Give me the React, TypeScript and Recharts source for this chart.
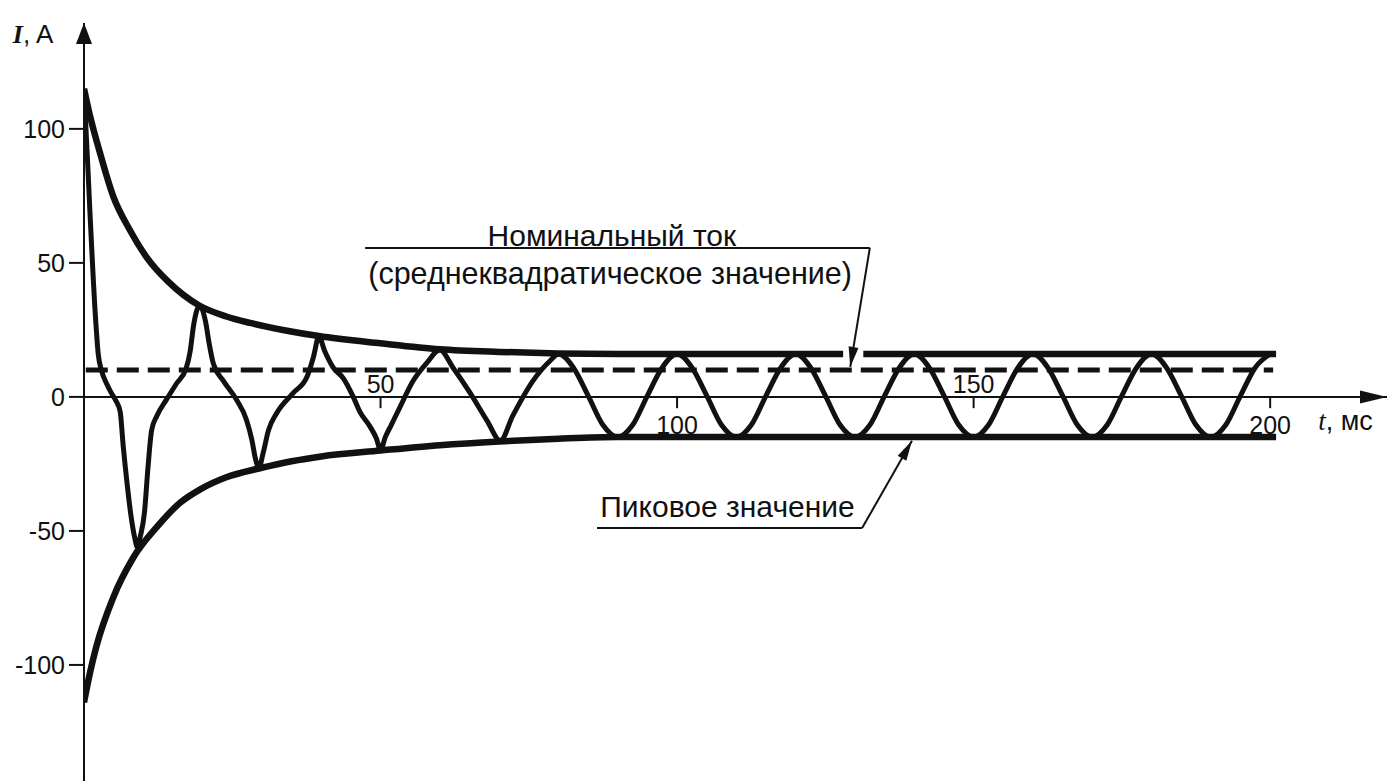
import React from 'react'
import { LineChart, Line, XAxis, YAxis, ReferenceLine, ReferenceDot } from 'recharts'

const FONT = '"Liberation Sans", Arial, Helvetica, sans-serif'
const SERIF = '"Liberation Serif", "Times New Roman", serif'
const INK = '#111'

// current i(t), ms / A
const currentPts: [number, number][] = [
  [0, 113], [0.2, 106], [1.0, 69], [1.9, 31], [2.4, 16], [3.0, 9.5], [3.8, 5], [4.6, 1.5],
  [5.4, -1.5], [6.1, -5.5], [6.6, -18], [7.3, -33], [7.9, -44], [8.5, -52], [9.0, -56],
  [9.5, -52], [10.2, -43], [10.8, -26], [11.4, -12.5], [12.3, -7], [13.9, -1], [15.6, 5],
  [17.2, 10.5], [17.9, 17], [18.5, 27], [19.5, 34], [20.5, 28], [21.1, 20], [21.8, 12.5],
  [23.5, 6], [25.7, -1], [27.4, -8.6], [28.3, -16], [28.9, -23], [29.5, -26.5], [30.2, -21],
  [31.1, -12.5], [32.5, -6], [35.3, 1.5], [37.6, 7.5], [38.7, 15], [39.6, 22.5], [40.6, 17],
  [42, 11], [43.7, 7], [45.4, 0], [46.5, -5.5], [48.2, -11], [49.3, -15.5], [50, -19.8],
  [50.8, -15], [51.8, -10.5], [53.3, -3.7], [55.5, 6], [57.8, 12.7], [60, 17.5], [62.2, 11],
  [65.1, 1.5], [68, -9], [70.2, -16.3], [72.3, -7], [75.7, 6], [78.6, 13.5], [80, 16],
  [82.5, 11], [85, 0.5], [87.5, -10.5], [90, -15], [92.5, -10.5], [95, 0.5], [97.5, 11],
  [100, 16], [102.5, 11], [105, 0.5], [107.5, -10.5], [110, -15], [112.5, -10.5], [115, 0.5],
  [117.5, 11], [120, 16], [122.5, 11], [125, 0.5], [127.5, -10.5], [130, -15], [132.5, -10.5],
  [135, 0.5], [137.5, 11], [140, 16], [142.5, 11], [145, 0.5], [147.5, -10.5], [150, -15],
  [152.5, -10.5], [155, 0.5], [157.5, 11], [160, 16], [162.5, 11], [165, 0.5], [167.5, -10.5],
  [170, -15], [172.5, -10.5], [175, 0.5], [177.5, 11], [180, 16], [182.5, 11], [185, 0.5],
  [187.5, -10.5], [190, -15], [192.5, -10.5], [195, 0.5], [197.5, 11], [200, 16],
]

// peak envelope, upper branch (gap where the leader arrow crosses it)
const upperPts: [number, number | null][] = [
  [0, 115], [1, 105], [2.7, 91], [4.9, 75], [7.8, 62], [10.6, 52], [14.2, 43], [19.5, 34],
  [24, 30], [28, 27.6], [34, 24.8], [39.6, 22.7], [50, 20], [60, 17.8], [70, 16.8],
  [80, 16.2], [90, 16], [128, 16], [129.7, null], [131.4, 16], [201, 16],
]

// peak envelope, lower branch
const lowerPts: [number, number][] = [
  [0, -114], [1, -103], [2.1, -93], [4.9, -75], [8.3, -60], [12.3, -48.5], [16.2, -39.5],
  [19.6, -34.5], [24, -30], [29.5, -26.7], [35, -24], [40, -22.2], [50, -20], [60, -18],
  [70, -16.6], [80, -15.6], [90, -15], [201, -15],
]

// rated rms current
const rmsPts: [number, number][] = [[0.3, 10], [200.5, 10]]

const yTicks = [-100, -50, 0, 50, 100]
const xTicks = [50, 100, 150, 200]

const toRows = (pts: [number, number | null][]) => pts.map(([t, v]) => ({ t, v }))

const arrowHead = (len: number, half: number, angle: number) => (p: any) => (
  <polygon
    points={`0,0 ${-len},${-half} ${-len},${half}`}
    transform={`translate(${p.cx},${p.cy}) rotate(${angle})`}
    fill={INK}
  />
)

const textAt = (content: React.ReactNode, size: number, anchor: string = 'middle') => (p: any) => (
  <text x={p.cx} y={p.cy} textAnchor={anchor} fontSize={size} fontFamily={FONT} fill={INK}>
    {content}
  </text>
)

export default function App() {
  return (
    <div style={{ position: 'absolute', left: 0, top: 0, width: 1389, height: 781, background: '#fff' }}>
      <LineChart width={1389} height={781} margin={{ top: 23, right: 2, bottom: 0, left: 0 }}>
        <XAxis type="number" dataKey="t" domain={[0, 219.7]} allowDataOverflow hide />
        <YAxis
          type="number"
          domain={[-143.3, 139.5]}
          allowDataOverflow
          ticks={yTicks}
          interval={0}
          width={84}
          axisLine={{ stroke: INK, strokeWidth: 2 }}
          tickLine={{ stroke: INK, strokeWidth: 2 }}
          tickSize={15}
          tickMargin={4}
          tick={{ fill: INK, fontSize: 25, fontFamily: FONT }}
        />

        {/* time axis through zero */}
        <ReferenceLine y={0} stroke={INK} strokeWidth={2} />
        {xTicks.map((t) => (
          <ReferenceLine key={`tk-${t}`} segment={[{ x: t, y: 0 }, { x: t, y: -4.2 }]} stroke={INK} strokeWidth={2} />
        ))}
        {xTicks.map((t, i) => (
          <ReferenceDot
            key={`tl-${t}`}
            x={t}
            y={i % 2 === 0 ? 1.5 : -14}
            ifOverflow="visible"
            shape={textAt(String(t), 25)}
          />
        ))}

        {/* axis arrows and titles */}
        <ReferenceDot x={219.7} y={0} ifOverflow="visible" shape={arrowHead(27, 6.5, 0)} />
        <ReferenceDot x={0} y={139.5} ifOverflow="visible" shape={arrowHead(21, 8, -90)} />
        <ReferenceDot
          x={-12}
          y={132}
          ifOverflow="visible"
          shape={textAt(
            <>
              <tspan fontFamily={SERIF} fontStyle="italic" fontWeight="bold">I</tspan>
              <tspan>, A</tspan>
            </>,
            26,
            'start'
          )}
        />
        <ReferenceDot
          x={208.1}
          y={-12.3}
          ifOverflow="visible"
          shape={textAt(
            <>
              <tspan fontFamily={SERIF} fontStyle="italic">t</tspan>
              <tspan>, мс</tspan>
            </>,
            27,
            'start'
          )}
        />

        <Line data={toRows(rmsPts)} dataKey="v" type="linear" stroke={INK} strokeWidth={5} strokeDasharray="22 9" dot={false} isAnimationActive={false} />
        <Line data={toRows(upperPts)} dataKey="v" type="monotone" stroke={INK} strokeWidth={6.5} dot={false} connectNulls={false} isAnimationActive={false} />
        <Line data={toRows(lowerPts)} dataKey="v" type="monotone" stroke={INK} strokeWidth={6.5} dot={false} isAnimationActive={false} />
        <Line data={toRows(currentPts)} dataKey="v" type="monotone" stroke={INK} strokeWidth={5} dot={false} isAnimationActive={false} />

        {/* rms note */}
        <ReferenceDot x={89} y={56.3} ifOverflow="visible" shape={textAt('Номинальный ток', 30)} />
        <ReferenceDot x={88.7} y={42} ifOverflow="visible" shape={textAt('(среднеквадратическое значение)', 30.5)} />
        <ReferenceLine segment={[{ x: 47.4, y: 55.6 }, { x: 132.5, y: 55.6 }]} stroke={INK} strokeWidth={2} ifOverflow="visible" />
        <ReferenceLine segment={[{ x: 132.5, y: 55.6 }, { x: 129.2, y: 11.2 }]} stroke={INK} strokeWidth={2} ifOverflow="visible" />
        <ReferenceDot x={129.2} y={11.2} ifOverflow="visible" shape={arrowHead(20, 5, 99.4)} />

        {/* peak note */}
        <ReferenceDot x={108.5} y={-44.8} ifOverflow="visible" shape={textAt('Пиковое значение', 30)} />
        <ReferenceLine segment={[{ x: 86.5, y: -48.9 }, { x: 131.2, y: -48.9 }]} stroke={INK} strokeWidth={2} ifOverflow="visible" />
        <ReferenceLine segment={[{ x: 131.2, y: -48.9 }, { x: 139.6, y: -16.4 }]} stroke={INK} strokeWidth={2} ifOverflow="visible" />
        <ReferenceDot x={139.6} y={-16.4} ifOverflow="visible" shape={arrowHead(20, 5, -60.2)} />
      </LineChart>
    </div>
  )
}
